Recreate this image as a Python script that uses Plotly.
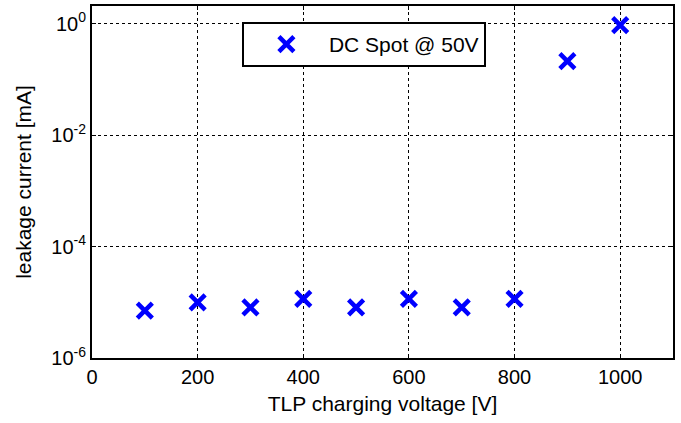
import plotly.graph_objects as go

voltage = [100, 200, 300, 400, 500, 600, 700, 800, 900, 1000]
leakage = [7.1e-6, 1.0e-5, 8.1e-6, 1.15e-5, 8.1e-6, 1.15e-5, 8.1e-6, 1.15e-5, 0.214, 0.95]
ytick_vals = [1e-6, 1e-4, 1e-2, 1e0]
ytick_text = ["10<sup>-6</sup>", "10<sup>-4</sup>", "10<sup>-2</sup>", "10<sup>0</sup>"]
xtick_vals = [0, 200, 400, 600, 800, 1000]

font = "Liberation Sans, Arial, sans-serif"

fig = go.Figure()
fig.add_trace(go.Scatter(
    x=voltage, y=leakage, mode="markers", name="DC Spot @ 50V",
    marker=dict(symbol="x-thin", size=15, line=dict(color="#0000ff", width=4.5), color="#0000ff"),
))

axis_common = dict(
    showline=True, linecolor="black", linewidth=2, mirror="ticks",
    ticks="inside", ticklen=4, tickcolor="black", tickwidth=1,
    showgrid=True, gridcolor="black", griddash="dot", gridwidth=1,
    zeroline=False,
)

fig.update_xaxes(range=[0, 1100], tickvals=xtick_vals,
                 tickfont=dict(family=font, size=20, color="black"),
                 title=dict(text="TLP charging voltage [V]", font=dict(family=font, size=21, color="black"), standoff=9),
                 **axis_common)
fig.update_yaxes(type="log", range=[-6, 0.32], tickvals=ytick_vals, ticktext=ytick_text,
                 tickfont=dict(family=font, size=20, color="black"),
                 title=dict(text="leakage current [mA]", font=dict(family=font, size=21, color="black"), standoff=14),
                 **axis_common)

fig.update_layout(
    width=681, height=423,
    margin=dict(l=92, r=8, t=6, b=65, autoexpand=False),
    paper_bgcolor="white", plot_bgcolor="white",
    font=dict(family=font, size=20, color="black"),
    showlegend=True,
    legend=dict(x=0.258, y=0.9545, xanchor="left", yanchor="top",
                bgcolor="white", bordercolor="black", borderwidth=2,
                font=dict(family=font, size=21, color="black"),
                itemwidth=75, tracegroupgap=0),
)

fig.write_html("out.html", config={"displayModeBar": False},
               post_script="document.body.style.margin='0px';document.body.style.overflow='hidden';")
